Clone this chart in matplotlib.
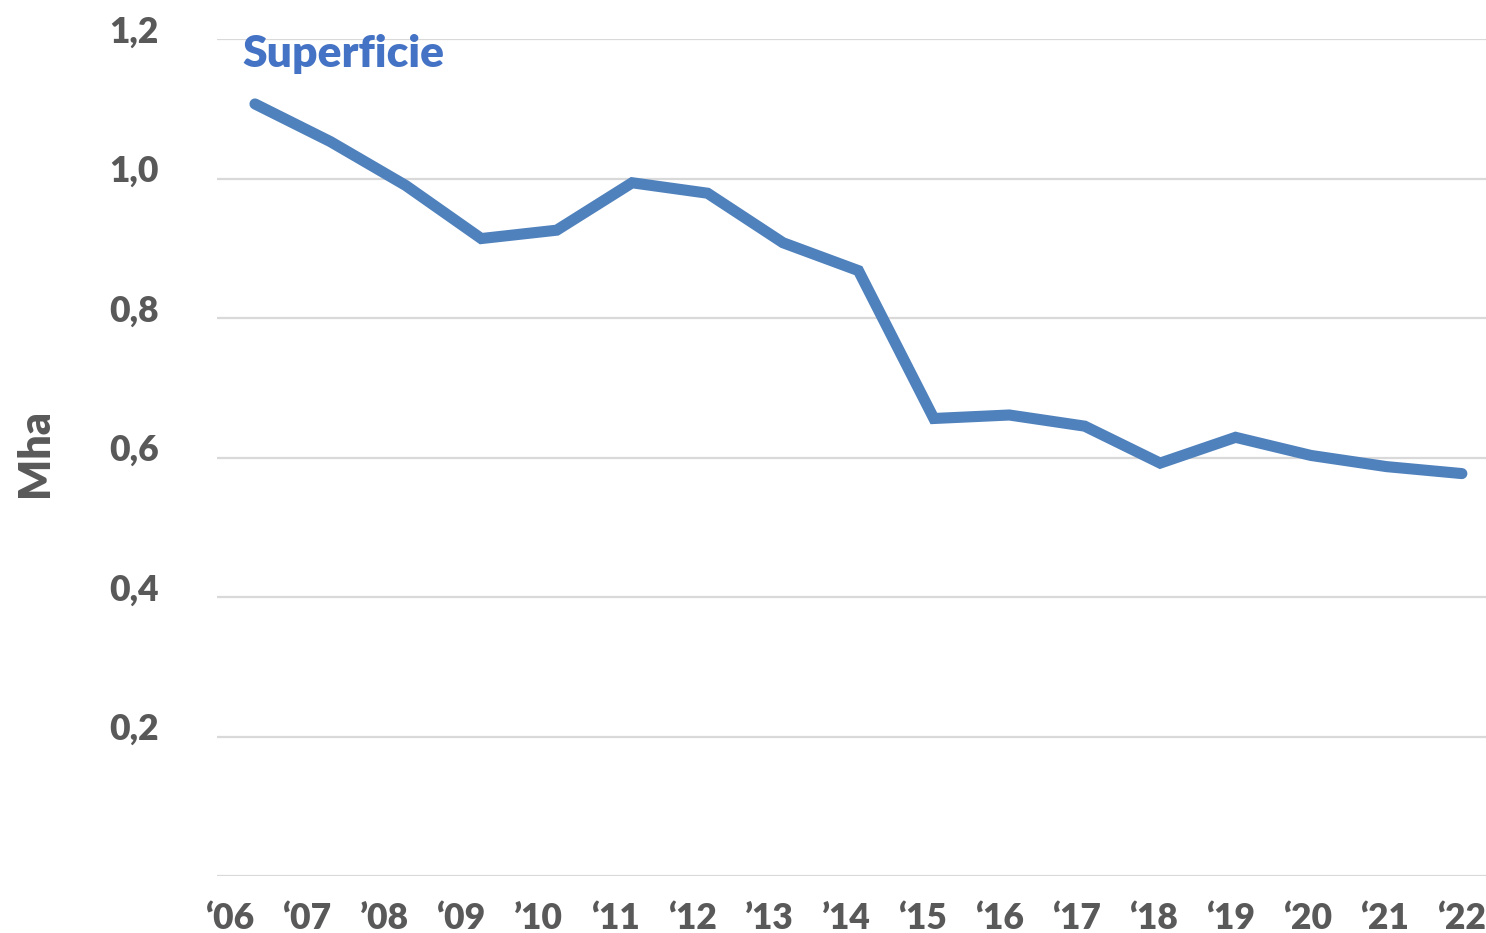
import numpy as np
import matplotlib.pyplot as plt
from matplotlib.transforms import ScaledTranslation

# superficie (Mha), one value per year
years = ['‘06', '‘07', '’08', '‘09', '’10', '‘11', '‘12', '’13', '’14',
         '‘15', '‘16', '‘17', '‘18', '‘19', '‘20', '‘21', '‘22']
superficie = [1.107, 1.053, 0.990, 0.914, 0.926, 0.994, 0.979, 0.908, 0.868,
              0.656, 0.661, 0.645, 0.592, 0.629, 0.603, 0.587, 0.577]
yticks = [0.2, 0.4, 0.6, 0.8, 1.0, 1.2]
ytick_labels = ['0,2', '0,4', '0,6', '0,8', '1,0', '1,2']

grey = '#595959'
blue_line = '#4F81BD'
blue_text = '#4472C4'
plt.rcParams['font.family'] = ['Lato', 'DejaVu Sans']

fig = plt.figure(figsize=(14.86, 9.33), dpi=100)
ax = fig.add_axes([0.146, 0.0611, 0.854, 0.897])

x = np.arange(len(years))
ax.plot(x, superficie, color=blue_line, lw=8, solid_capstyle='round',
        solid_joinstyle='miter')

ax.set_xlim(-0.504, 16.32)
ax.set_ylim(0, 1.2)

# gridlines (including the 0 line)
for v in [0] + yticks:
    ax.axhline(v, color='#d9d9d9', lw=1.6, zorder=0)

ax.set_yticks(yticks)
ax.set_yticklabels(ytick_labels)
# the labels are spread a bit wider than the points in the original
ax.set_xticks(np.linspace(-0.33, 16, len(years)))
ax.set_xticklabels(years)
ax.tick_params(axis='both', length=0, labelsize=25.5, labelcolor=grey)
ax.tick_params(axis='y', pad=42)
ax.tick_params(axis='x', pad=19)
for lab in ax.get_xticklabels() + ax.get_yticklabels():
    lab.set_fontweight('heavy')

# y labels sit a little above their gridline
shift = ScaledTranslation(0, 0.1, fig.dpi_scale_trans)
for lab in ax.get_yticklabels():
    lab.set_transform(lab.get_transform() + shift)

for s in ax.spines.values():
    s.set_visible(False)

fig.text(35 / 1486, 1 - 453 / 933, 'Mha', rotation=90, fontsize=31,
         fontweight='heavy', color=grey, ha='center', va='center')

ax.text(-0.17, 1.16, 'Superficie', fontsize=32, fontweight='heavy',
        color=blue_text, va='baseline', ha='left')

fig.savefig('out.png', dpi=100)
